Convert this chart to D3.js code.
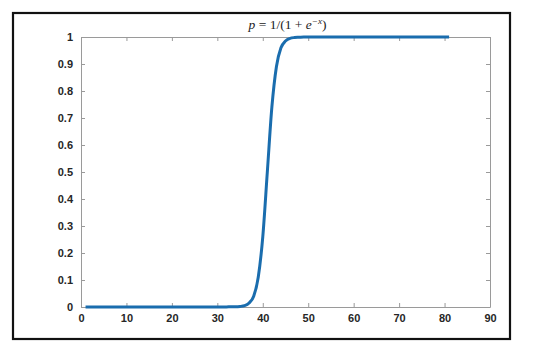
<!DOCTYPE html>
<html>
<head>
<meta charset="utf-8">
<script src="https://cdn.jsdelivr.net/npm/d3@7"></script>
<style>
  html, body { margin: 0; padding: 0; background: #fff; }
  svg { display: block; }
</style>
</head>
<body>
<svg id="chart" width="550" height="352"></svg>
<script>
// ---- data ----
const xValues = [
  1,2,3,4,5,6,7,8,9,10,11,12,13,14,15,16,17,18,19,20,
  21,22,23,24,25,26,27,28,29,30,31,32,33,34,35,36,37,38,39,40,
  41,42,43,44,45,46,47,48,49,50,51,52,53,54,55,56,57,58,59,60,
  61,62,63,64,65,66,67,68,69,70,71,72,73,74,75,76,77,78,79,80,81
];
const pValues = [
  0,0,0,0,0,0,0,0,0,0,0,0,0,0,0,0,0,0,0,0,
  0,0,0,0,0,0,0,0,0,0,0,0,0.001,0.001,0.002,0.005,0.015,0.04,0.11,0.26,
  0.5,0.74,0.89,0.96,0.985,0.995,0.998,0.999,1,1,1,1,1,1,1,1,1,1,1,1,
  1,1,1,1,1,1,1,1,1,1,1,1,1,1,1,1,1,1,1,1,1
];
const xTicks = [0,10,20,30,40,50,60,70,80,90];
const yTicks = [0,0.1,0.2,0.3,0.4,0.5,0.6,0.7,0.8,0.9,1];

// ---- layout ----
const svg = d3.select("#chart");
const mLeft = 81, mRight = 490, mTop = 37, mBottom = 307;

const x = d3.scaleLinear().domain([0, 90]).range([mLeft, mRight]);
const y = d3.scaleLinear().domain([0, 1]).range([mBottom, mTop]);

const axisColor = "#9a9a9a";
const labelColor = "#262626";
const tickFont = "bold 11px 'Liberation Sans', Arial, sans-serif";

// outer frame
svg.append("rect")
  .attr("x", 13).attr("y", 13).attr("width", 497).attr("height", 326)
  .attr("fill", "none").attr("stroke", "#111").attr("stroke-width", 2.2);

// axes
const fmt = d => d === 0 ? "0" : d === 1 ? "1" : d3.format(".1f")(d);

const gx = svg.append("g").attr("transform", `translate(0,${mBottom})`)
  .call(d3.axisBottom(x).tickValues(xTicks).tickSizeInner(-4).tickSizeOuter(0).tickPadding(7).tickFormat(d3.format("d")));
const gxTop = svg.append("g").attr("transform", `translate(0,${mTop})`)
  .call(d3.axisTop(x).tickValues(xTicks).tickSizeInner(-4).tickSizeOuter(0).tickFormat(""));
const gy = svg.append("g").attr("transform", `translate(${mLeft},0)`)
  .call(d3.axisLeft(y).tickValues(yTicks).tickSizeInner(-4).tickSizeOuter(0).tickPadding(8).tickFormat(fmt));
const gyR = svg.append("g").attr("transform", `translate(${mRight},0)`)
  .call(d3.axisRight(y).tickValues(yTicks).tickSizeInner(-4).tickSizeOuter(0).tickFormat(""));

[gx, gxTop, gy, gyR].forEach(g => {
  g.selectAll(".domain").attr("stroke", axisColor).attr("stroke-width", 1);
  g.selectAll(".tick line").attr("stroke", axisColor).attr("stroke-width", 1);
  g.selectAll("text").style("font", tickFont).attr("fill", labelColor);
});
gx.selectAll("text").attr("dy", "0.71em");

// line
const data = xValues.map((d, i) => ({ x: d, p: pValues[i] }));
svg.append("path")
  .datum(data)
  .attr("fill", "none")
  .attr("stroke", "#1a6dae")
  .attr("stroke-width", 3)
  .attr("stroke-linejoin", "round")
  .attr("stroke-linecap", "butt")
  .attr("d", d3.line().x(d => x(d.x)).y(d => y(d.p)).curve(d3.curveMonotoneX));

// title
const title = svg.append("text")
  .attr("x", (mLeft + mRight) / 2 + 2).attr("y", 29)
  .attr("text-anchor", "middle")
  .style("font-family", "'Liberation Serif', 'DejaVu Serif', serif")
  .style("font-size", "13.5px")
  .attr("fill", "#222");
title.append("tspan").style("font-style", "italic").text("p");
title.append("tspan").text(" = 1/(1 + ");
title.append("tspan").style("font-style", "italic").text("e");
title.append("tspan").attr("dy", -5).style("font-size", "9px").style("font-style", "italic").text("−x");
title.append("tspan").attr("dy", 5).text(")");
</script>
</body>
</html>
